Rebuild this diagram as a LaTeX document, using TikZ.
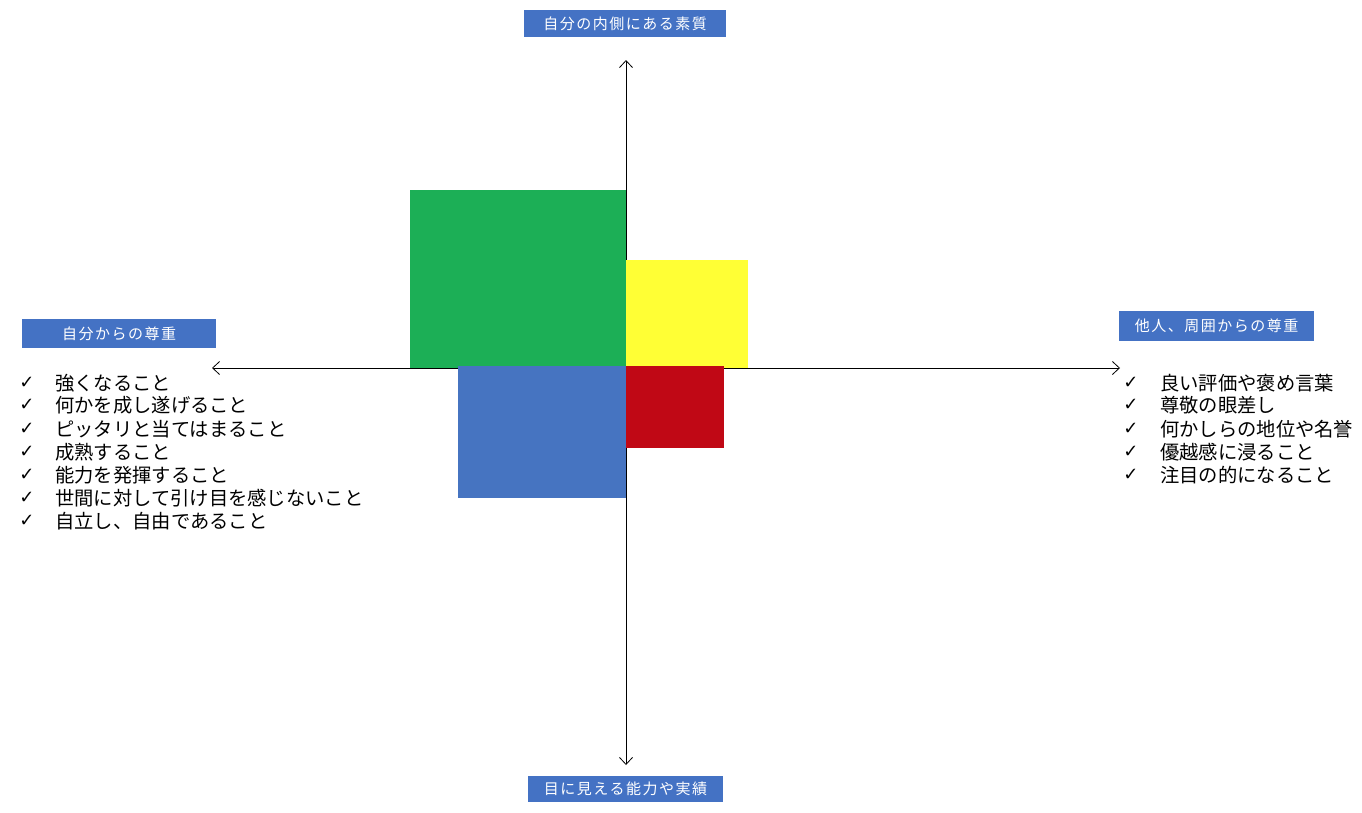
\documentclass[tikz,border=0pt]{standalone}
\usepackage{fontspec}
\setmainfont{Noto Sans CJK JP}
\newfontfamily\jp{Noto Sans CJK JP}
\newfontfamily\jplab{Noto Sans CJK JP}[LetterSpace=10]
\newfontfamily\dv{DejaVu Sans}
\usetikzlibrary{arrows.meta}
\definecolor{labblue}{RGB}{68,114,196}
\definecolor{qgreen}{RGB}{28,175,86}
\definecolor{qyellow}{RGB}{255,255,53}
\definecolor{qblue}{RGB}{70,116,193}
\definecolor{qred}{RGB}{192,8,21}
\tikzset{
  axis/.style={draw=black,line width=0.8pt,{Straight Barb[length=7pt,width=13pt]}-{Straight Barb[length=7pt,width=13pt]}},
  labelbox/.style={fill=labblue,text=white,inner sep=0pt,font=\jplab\fontsize{15}{18}\selectfont},
  quad/.style={inner sep=0pt,outer sep=0pt,anchor=north west},
  chk/.style={anchor=center,inner sep=0pt,font=\dv\fontsize{18}{20}\selectfont},
  item/.style={anchor=west,inner sep=0pt,font=\jp\fontsize{19.3}{22}\selectfont}
}
\begin{document}
\begin{tikzpicture}[x=1pt,y=-1pt]
\useasboundingbox (0,0) rectangle (1362,812);
% axes
\coordinate (axT) at (626,60);
\coordinate (axB) at (626,765);
\coordinate (axL) at (212,368);
\coordinate (axR) at (1120,368);
\draw[axis] (axT) -- (axB);
\draw[axis] (axL) -- (axR);
% quadrants
\node[quad,fill=qgreen,minimum width=216pt,minimum height=178pt] (green) at (410,190) {};
\node[quad,fill=qyellow,minimum width=122pt,minimum height=108pt] (yellow) at (626,260) {};
\node[quad,fill=qblue,minimum width=168pt,minimum height=132pt] (blue) at (458,366) {};
\node[quad,fill=qred,minimum width=98pt,minimum height=82pt] (red) at (626,366) {};
% labels
\node[labelbox,minimum width=202pt,minimum height=27pt] (ltop) at (625,23.5) {自分の内側にある素質};
\node[labelbox,minimum width=195pt,minimum height=26pt] (lbot) at (625.5,789) {目に見える能力や実績};
\node[labelbox,minimum width=194pt,minimum height=29pt] (lleft) at (119,333.5) {自分からの尊重};
\node[labelbox,minimum width=195pt,minimum height=30pt] (lright) at (1216.5,326) {他人、周囲からの尊重};
% left list
\foreach \y/\t [count=\i] in {383/強くなること,405/何かを成し遂げること,429/ピッタリと当てはまること,452/成熟すること,475/能力を発揮すること,498/世間に対して引け目を感じないこと,521/自立し、自由であること}{
  \node[chk] (lc\i) at (27,\y) {✓};
  \node[item] (lt\i) at (55,\y) {\t};
}
% right list
\foreach \y/\t [count=\i] in {383/良い評価や褒め言葉,405/尊敬の眼差し,429/何かしらの地位や名誉,452/優越感に浸ること,475/注目の的になること}{
  \node[chk] (rc\i) at (1131,\y) {✓};
  \node[item] (rt\i) at (1160,\y) {\t};
}
\end{tikzpicture}
\end{document}
